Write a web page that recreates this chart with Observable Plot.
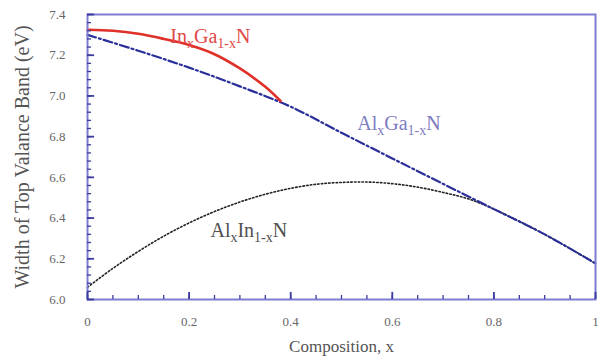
<!DOCTYPE html>
<html>
<head>
<meta charset="utf-8">
<script src="https://cdn.jsdelivr.net/npm/d3@7"></script>
<script src="https://cdn.jsdelivr.net/npm/@observablehq/plot@0.6"></script>
<style>
  html, body { margin: 0; padding: 0; background: #fff; }
</style>
</head>
<body>
<div id="chart"></div>
<script>
// Composition values
const xsInGaN = [0, 0.05, 0.1, 0.15, 0.2, 0.25, 0.3, 0.35, 0.38];
const ysInGaN = [7.325, 7.32, 7.305, 7.28, 7.25, 7.205, 7.135, 7.045, 6.975];

const xsAlGaN = [0, 0.1, 0.2, 0.3, 0.4, 0.5, 0.6, 0.7, 0.8, 0.9, 1.0];
const ysAlGaN = [7.30, 7.222, 7.139, 7.047, 6.947, 6.819, 6.693, 6.568, 6.444, 6.32, 6.177];

const xsAlInN = [0, 0.05, 0.1, 0.15, 0.2, 0.25, 0.3, 0.35, 0.4, 0.45, 0.5, 0.55, 0.6, 0.65, 0.7, 0.75, 0.8, 0.85, 0.9, 0.95, 1.0];
const ysAlInN = [6.06, 6.153, 6.236, 6.311, 6.376, 6.432, 6.479, 6.517, 6.546, 6.566, 6.575, 6.577, 6.569, 6.552, 6.526, 6.494, 6.444, 6.384, 6.32, 6.25, 6.177];

const xTickLabels = [0, 0.2, 0.4, 0.6, 0.8, 1];
const yTickLabels = [6.0, 6.2, 6.4, 6.6, 6.8, 7.0, 7.2, 7.4];
const xMinorTicks = d3.range(0, 21).map(i => i * 0.05);
const yMinorTicks = d3.range(0, 36).map(i => 6 + i * 0.04);

const seriesLabels = [
  {name: "In_xGa_1-xN", x: 0.163, y: 7.29, color: "#e04a48"},
  {name: "Al_xGa_1-xN", x: 0.531, y: 6.865, color: "#7f7dbf"},
  {name: "Al_xIn_1-xN", x: 0.242, y: 6.339, color: "#505050"}
];

const inGaN = xsInGaN.map((x, i) => ({x, y: ysInGaN[i]}));
const alGaN = xsAlGaN.map((x, i) => ({x, y: ysAlGaN[i]}));
const alInN = xsAlInN.map((x, i) => ({x, y: ysAlInN[i]}));

const frameColor = "#7c7cd0";
const tickColor = "#3c3ca0";
const font = "'Liberation Serif', 'Times New Roman', serif";

const plot = Plot.plot({
  width: 602,
  height: 362,
  marginLeft: 87,
  marginRight: 7,
  marginTop: 14,
  marginBottom: 63,
  style: {fontFamily: font, background: "#fff", overflow: "visible"},
  x: {domain: [0, 1]},
  y: {domain: [6.0, 7.4]},
  marks: [
    // tick labels
    Plot.axisY({ticks: yTickLabels, tickSize: 0, tickPadding: 22, tickFormat: d3.format(".1f"), fill: "#666", fontSize: 13, label: null}),
    Plot.axisX({ticks: xTickLabels, tickSize: 0, tickPadding: 17, tickFormat: d => String(d), fill: "#666", fontSize: 13, label: null}),
    // curves
    Plot.line(alInN, {x: "x", y: "y", stroke: "#222", strokeWidth: 1.6, strokeDasharray: "1.5,2.2", curve: "catmull-rom"}),
    Plot.line(alGaN, {x: "x", y: "y", stroke: "#2a2f9a", strokeWidth: 2.2, strokeDasharray: "9,3,2,3", curve: "catmull-rom"}),
    Plot.line(inGaN, {x: "x", y: "y", stroke: "#e0302a", strokeWidth: 2.6, curve: "catmull-rom"}),
    // series labels
    Plot.text(seriesLabels, {x: "x", y: "y", text: "name", fill: "color", fontSize: 20, textAnchor: "start", fontFamily: font}),
    // axis titles
    Plot.text(["Composition, x"], {frameAnchor: "bottom", dy: 52, textAnchor: "middle", text: d => d, fill: "#555", fontSize: 17}),
    Plot.text(["Width of Top Valance Band (eV)"], {frameAnchor: "left", dx: -65, rotate: -90, textAnchor: "middle", text: d => d, fill: "#555", fontSize: 20}),
    Plot.frame({stroke: frameColor, strokeWidth: 2}),
    // inward tick marks (minor and major) on the left and bottom edges
    Plot.ruleY(yMinorTicks, {y: d => d, x1: 0, x2: 0.008, stroke: tickColor, strokeWidth: 1.3}),
    Plot.ruleY(yTickLabels, {y: d => d, x1: 0, x2: 0.014, stroke: tickColor, strokeWidth: 1.8}),
    Plot.ruleX(xMinorTicks, {x: d => d, y1: 6.0, y2: 6.02, stroke: tickColor, strokeWidth: 1.3}),
    Plot.ruleX(xTickLabels, {x: d => d, y1: 6.0, y2: 6.035, stroke: tickColor, strokeWidth: 1.8})
  ]
});

// Turn "_x" / "_1-x" into subscripts
d3.select(plot).selectAll("text").each(function() {
  const el = d3.select(this);
  const t = el.text();
  if (!t.includes("_")) return;
  const parts = t.split(/(_[^A-Z]+)/).filter(s => s.length);
  el.text(null);
  let sub = false;
  for (const p of parts) {
    if (p.startsWith("_")) {
      el.append("tspan").attr("font-size", "14").attr("dy", sub ? "0" : "5").text(p.slice(1));
      sub = true;
    } else {
      el.append("tspan").attr("dy", sub ? "-5" : "0").text(p);
      sub = false;
    }
  }
});

document.getElementById("chart").appendChild(plot);
</script>
</body>
</html>
